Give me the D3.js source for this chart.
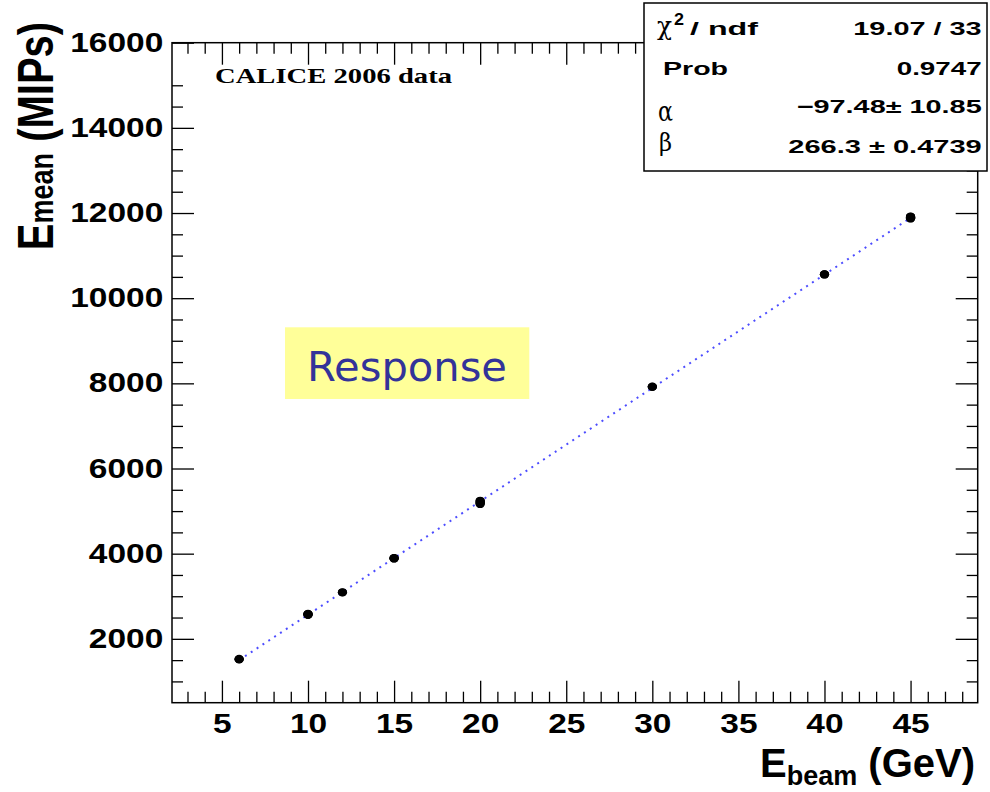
<!DOCTYPE html>
<html><head><meta charset="utf-8">
<script src="https://cdn.jsdelivr.net/npm/d3@7"></script>
<style>body{margin:0;background:#fff}</style>
</head><body><svg id="c" width="990" height="792"></svg>
<script>
// ---- data ----
const ebeam = [6,6,6, 10,10,10,10,10, 12,12, 15,15,15,15, 20,20,20,20,20,20, 30,30,30, 40,40,40, 45,45,45,45,45,45,45,45,45];
const emean = [1520,1530,1515, 2560,2585,2575,2590,2570, 3095,3090, 3890,3900,3885,3895, 5165,5180,5245,5235,5200,5215, 7920,7925,7915, 10560,10565,10555, 11870,11890,11910,11900,11880,11920,11895,11905,11885];
const xMajorTicks = [5,10,15,20,25,30,35,40,45];
const yMajorTicks = [2000,4000,6000,8000,10000,12000,14000,16000];
const fitAlpha = -97.48, fitBeta = 266.3;
const fitRange = [6,45];
const statNames = ["Prob"];
const statValues = ["19.07 / 33","0.9747","\u221297.48\u00b1 10.85","266.3 \u00b1 0.4739"];

const svg = d3.select("#c");
const SANS = "'Liberation Sans', Arial, Helvetica, sans-serif";
const SERIF = "'Liberation Serif', 'Times New Roman', serif";
const GREEK = "'DejaVu Serif', 'Liberation Serif', serif";
const L=172, R=977.7, T=42.7, B=702.7;
const x = d3.scaleLinear().domain([2.1,48.9]).range([L,R]);
const y = d3.scaleLinear().domain([500,16000]).range([B,T]);
const xMinor = d3.range(3,49).filter(v=>v%5!==0);
const yMinorL = d3.range(1000,16000,500).filter(v=>v%2000!==0 && v!==15500);
const yMinorR = d3.range(1000,16000,500).filter(v=>v%2000!==0);

function styleAxis(g){
  g.select(".domain").remove();
  g.selectAll(".tick line").attr("stroke","#000").attr("stroke-width",1.3);
}
// bottom
svg.append("g").attr("transform",`translate(0,${B})`).call(d3.axisBottom(x).tickValues(xMinor).tickSize(-11).tickFormat("")).call(styleAxis);
const bx = svg.append("g").attr("transform",`translate(0,${B})`)
  .call(d3.axisBottom(x).tickValues(xMajorTicks).tickSize(-22).tickPadding(11).tickFormat(d3.format("d"))).call(styleAxis);
bx.selectAll("text").attr("fill","#000").style("font-family",SANS).style("font-weight","bold").style("font-size","27px").attr("transform","scale(1.24,1)");
// top
svg.append("g").attr("transform",`translate(0,${T})`).call(d3.axisTop(x).tickValues(xMinor).tickSize(-11).tickFormat("")).call(styleAxis);
svg.append("g").attr("transform",`translate(0,${T})`).call(d3.axisTop(x).tickValues(xMajorTicks).tickSize(-22).tickFormat("")).call(styleAxis);
// left
svg.append("g").attr("transform",`translate(${L},0)`).call(d3.axisLeft(y).tickValues(yMinorL).tickSize(-11).tickFormat("")).call(styleAxis);
const ly = svg.append("g").attr("transform",`translate(${L},0)`)
  .call(d3.axisLeft(y).tickValues(yMajorTicks).tickSize(-22).tickPadding(7).tickFormat(d3.format("d"))).call(styleAxis);
ly.selectAll("text").attr("fill","#000").style("font-family",SANS).style("font-weight","bold").style("font-size","27px").attr("transform","scale(1.24,1)");
// right
svg.append("g").attr("transform",`translate(${R},0)`).call(d3.axisRight(y).tickValues(yMinorR).tickSize(-11).tickFormat("")).call(styleAxis);
svg.append("g").attr("transform",`translate(${R},0)`).call(d3.axisRight(y).tickValues(yMajorTicks).tickSize(-22).tickFormat("")).call(styleAxis);

// frame
svg.append("rect").attr("x",L).attr("y",T).attr("width",R-L).attr("height",B-T)
  .attr("fill","none").attr("stroke","#000").attr("stroke-width",1.5);

// fit line
const fitPts = fitRange.map(e=>[e, fitAlpha+fitBeta*e]);
svg.append("path").datum(fitPts)
  .attr("d", d3.line().x(d=>x(d[0])).y(d=>y(d[1])))
  .attr("fill","none").attr("stroke","#0000ff").attr("stroke-width",2)
  .attr("stroke-dasharray","2,5").attr("stroke-opacity",0.7);

// points
svg.append("g").selectAll("ellipse").data(ebeam.map((e,i)=>[e,emean[i]])).join("ellipse")
  .attr("cx",d=>x(d[0])).attr("cy",d=>y(d[1])).attr("rx",4.6).attr("ry",4).attr("fill","#000");

// CALICE label
svg.append("text").attr("x",215).attr("y",83).text("CALICE 2006 data")
  .style("font-family",SERIF).style("font-weight","bold").style("font-size","22px")
  .attr("textLength",237).attr("lengthAdjust","spacingAndGlyphs");

// Response label
svg.append("rect").attr("x",285).attr("y",327.3).attr("width",244.3).attr("height",71.7).attr("fill","#ffff99");
svg.append("text").attr("x",307).attr("y",380.7).text("Response")
  .style("font-family","'DejaVu Sans', Verdana, sans-serif").style("font-size","41px").attr("fill","#333399")
  .attr("textLength",200).attr("lengthAdjust","spacingAndGlyphs");

// axis titles
const xt = svg.append("text").attr("x",975).attr("y",777).attr("text-anchor","end")
  .style("font-family",SANS).style("font-weight","bold").style("font-size","40px").attr("fill","#000");
xt.append("tspan").text("E");
xt.append("tspan").attr("dy",8).style("font-size","27px").text("beam");
xt.append("tspan").attr("dy",-8).text(" (GeV)");

const ytg = svg.append("g").attr("transform","translate(53,136) scale(1.25,1) rotate(-90)");
const yt = ytg.append("text").attr("text-anchor","middle")
  .style("font-family",SANS).style("font-weight","bold").style("font-size","40px").attr("fill","#000");
yt.append("tspan").text("E");
yt.append("tspan").style("font-size","27px").text("mean");
yt.append("tspan").text(" (MIPs)");

// stats box
svg.append("rect").attr("x",644).attr("y",3).attr("width",343).attr("height",168)
  .attr("fill","#fff").attr("stroke","#000").attr("stroke-width",1.5);
function st(xx,yy,str,opt){
  const t = svg.append("text").attr("x",xx).attr("y",yy).text(str)
    .style("font-family",opt.family||SANS).style("font-weight",opt.weight||"bold")
    .style("font-size",(opt.size||19)+"px").attr("fill","#000");
  if(opt.len) t.attr("textLength",opt.len).attr("lengthAdjust","spacingAndGlyphs");
  return t;
}
st(657,35,"\u03c7",{family:GREEK,weight:"normal",size:26,len:15});
st(674,25,"2",{size:16,len:10});
st(690,35,"/ ndf",{len:68});
st(853.3,35,statValues[0],{len:128.4});
st(663,75,statNames[0],{len:65});
st(896.7,75,statValues[1],{len:85});
st(658,121,"\u03b1",{family:GREEK,weight:"normal",size:28,len:15});
st(796.7,113.3,statValues[2],{len:185});
st(659,151,"\u03b2",{family:GREEK,weight:"normal",size:25,len:13});
st(788.3,153.3,statValues[3],{len:193.4});
</script></body></html>
